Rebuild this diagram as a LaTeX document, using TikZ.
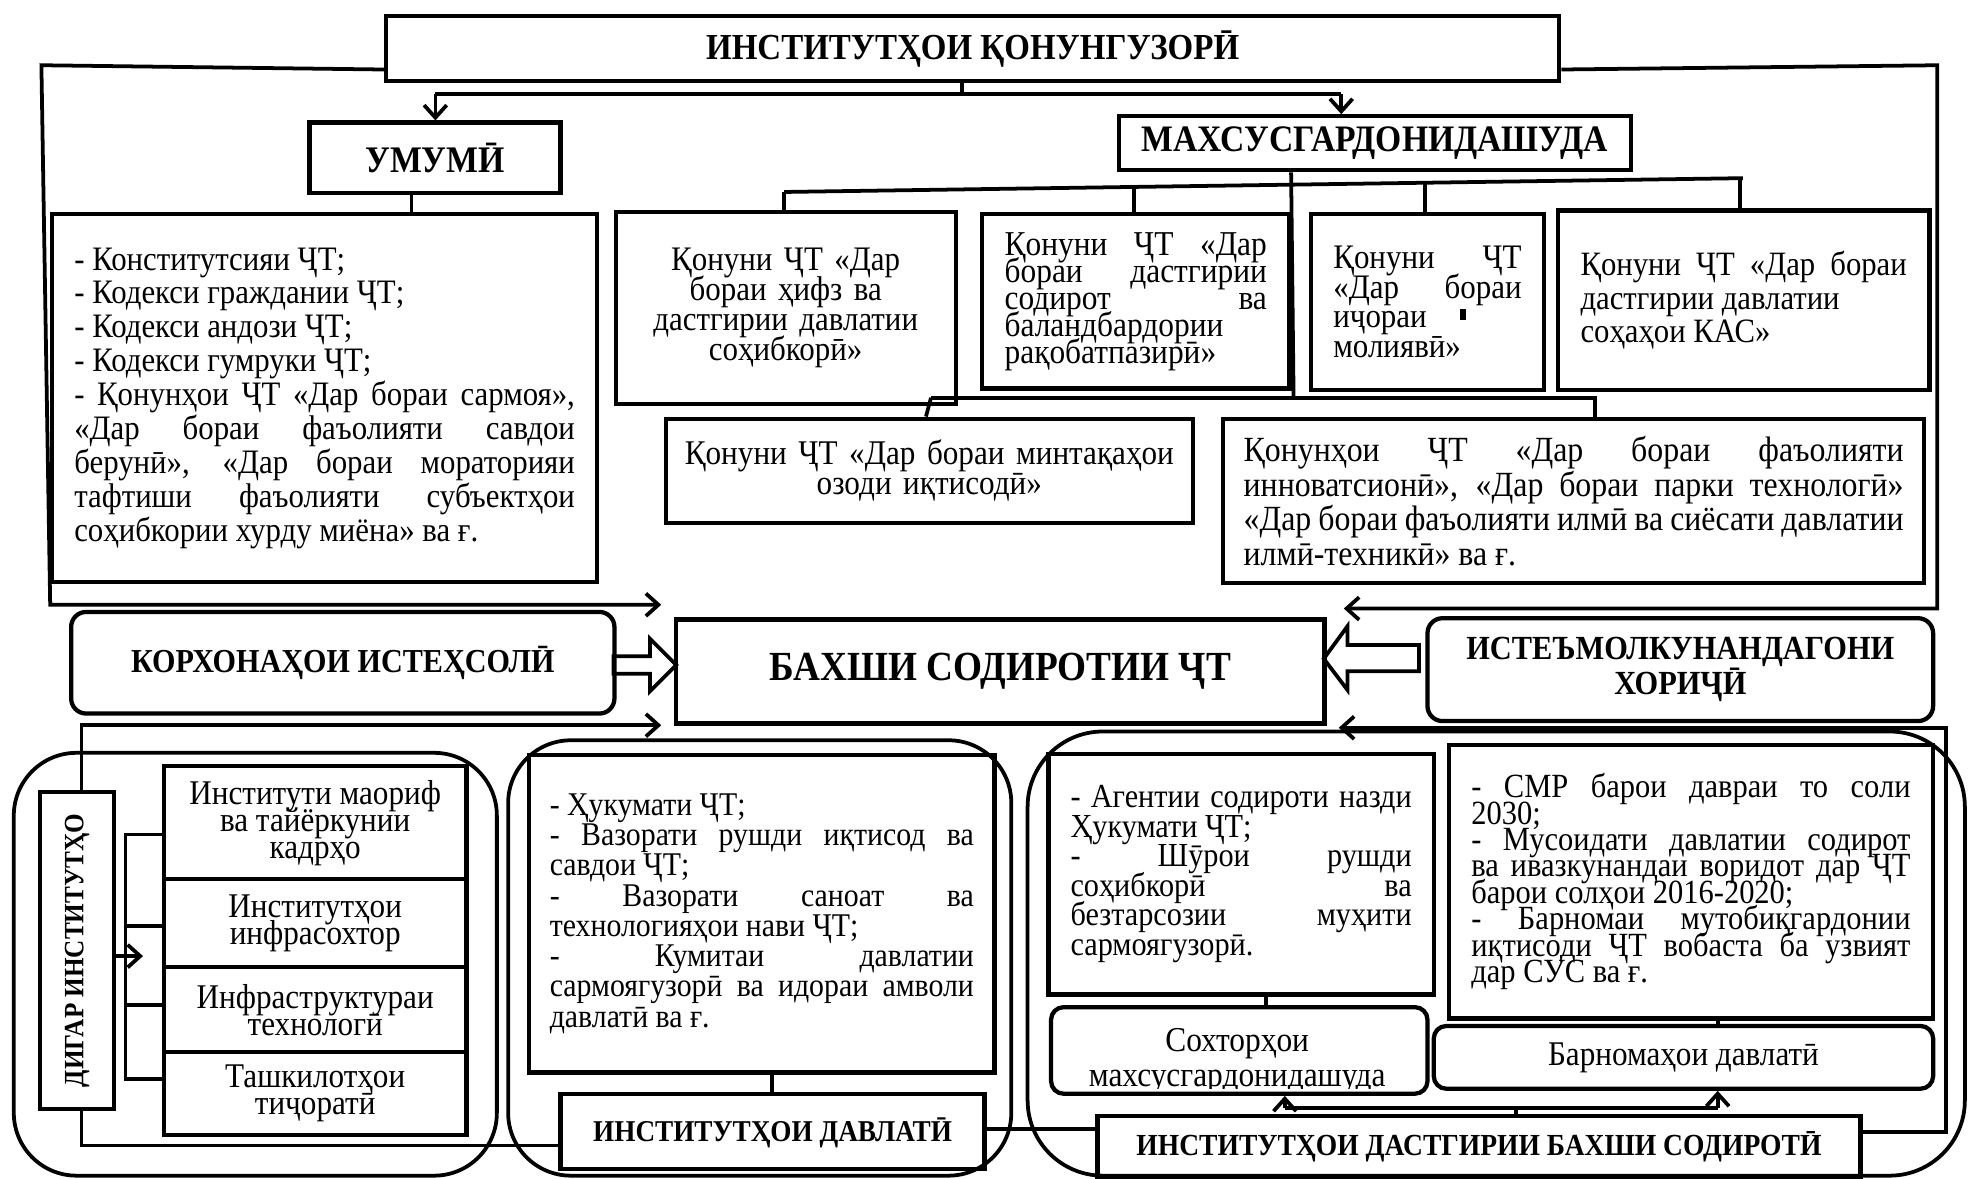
\documentclass[tikz,border=0pt]{standalone}
\usepackage{fontspec}
\setmainfont{Liberation Serif}[FakeStretch=0.9]
\usetikzlibrary{arrows.meta,calc}
\newcommand\setfs[2]{\fontsize{#1pt}{#2pt}\selectfont}
\hyphenpenalty=10000
\exhyphenpenalty=10000
\tolerance=10000
\emergencystretch=20pt
\begin{document}
\begin{tikzpicture}[x=1pt,y=-1pt,
  bx/.style={draw, line width=3.4pt, inner sep=0pt, anchor=north west,
    execute at begin node={\setlength{\parindent}{0pt}\lineskiplimit=-100pt}},
  rbx/.style={bx, rounded corners=12pt},
  ln/.style={line width=3pt},
  ctr/.style={line width=3pt, rounded corners=50pt},
  arr/.style={ln, -{Straight Barb[length=10pt,width=18pt,line width=3pt]}},
  hd/.style={font=\bfseries\setfs{#1}{#1}},
]
\useasboundingbox (0,0) rectangle (1568.5,939);

% containers
\draw[ctr] (11,600) rectangle (396,937);
\draw[ctr] (405,590) rectangle (806,937);
\draw[ctr, rounded corners=60pt] (819,583) rectangle (1566,937);

% top level
\node[bx, minimum width=935pt, minimum height=52pt, hd=29.2] (T) at (306,11) {ИНСТИТУТҲОИ ҚОНУНГУЗОРӢ};
\node[bx, minimum width=200pt, minimum height=56pt, hd=29.9] (U) at (245,96) {УМУМӢ};
\node[bx, minimum width=408pt, minimum height=43pt, hd=29.8] (M) at (890,91) {МАХСУСГАРДОНИДАШУДА};

\node[bx, minimum width=434pt, minimum height=293pt, text width=399pt, align=justify, font=\setfs{27.3}{27}] (G) at (40,169) {%
- Конститутсияи ҶТ;\par
- Кодекси граждании ҶТ;\par
- Кодекси андози ҶТ;\par
- Кодекси гумруки ҶТ;\par
- Қонунҳои ҶТ «Дар бораи сармоя»,\linebreak
«Дар бораи фаъолияти савдои\linebreak
берунӣ», «Дар бораи мораторияи\linebreak
тафтиши фаъолияти субъектҳои\linebreak
соҳибкории хурду миёна» ва ғ.};

\node[bx, minimum width=271pt, minimum height=153pt, text width=262pt, align=center, font=\setfs{27.4}{24}] (H1) at (489,167) {Қонуни ҶТ «Дар\\бораи ҳифз ва\\дастгирии давлатии\\соҳибкорӣ»};
\node[bx, minimum width=245pt, minimum height=139pt, text width=209pt, align=justify, font=\setfs{27.8}{21.5}] (H2) at (781,169) {Қонуни ҶТ «Дар\linebreak бораи дастгирии\linebreak содирот ва\linebreak баландбардории\par рақобатпазирӣ»};
\node[bx, minimum width=186pt, minimum height=140pt, text width=150pt, align=justify, font=\setfs{27.4}{23.5}] (H3) at (1043,169) {Қонуни ҶТ\linebreak «Дар бораи\linebreak иҷораи\par молиявӣ»};
\fill (1164,246) rectangle (1168,255);
\node[bx, minimum width=296pt, minimum height=143pt, text width=260pt, align=justify, font=\setfs{27.2}{27}] (H4) at (1240,166) {Қонуни ҶТ «Дар бораи\linebreak дастгирии давлатии\par соҳаҳои КАС»};
\node[bx, minimum width=420pt, minimum height=83pt, text width=410pt, align=center, font=\setfs{27.6}{24}] (H5) at (529,332) {Қонуни ҶТ «Дар бораи минтақаҳои\\озоди иқтисодӣ»};
\node[bx, minimum width=559pt, minimum height=131pt, text width=526pt, align=justify, font=\setfs{28.2}{27.5}] (H6) at (973,332) {Қонунҳои ҶТ «Дар бораи фаъолияти\linebreak инноватсионӣ», «Дар бораи парки технологӣ»\linebreak «Дар бораи фаъолияти илмӣ ва сиёсати давлатии\linebreak илмӣ-техникӣ» ва ғ.};

% middle row
\node[rbx, minimum width=433pt, minimum height=81pt, hd=26.7] (K) at (55,486) {КОРХОНАҲОИ ИСТЕҲСОЛӢ};
\node[bx, minimum width=517pt, minimum height=83pt, hd=33] (B) at (537,492) {БАХШИ СОДИРОТИИ ҶТ};
\node[rbx, minimum width=403pt, minimum height=82pt, align=center, font=\bfseries\setfs{26.9}{27.5}] (I) at (1136,491) {ИСТЕЪМОЛКУНАНДАГОНИ\\ХОРИҶӢ};

% bottom left
\node[draw, line width=3.4pt, inner sep=0pt, rotate=90, minimum width=253pt, minimum height=59pt, hd=22.3] (D) at (61.5,757.5) {ДИГАР ИНСТИТУТҲО};
\node[bx, minimum width=241pt, minimum height=90pt, align=center, font=\setfs{27.6}{21.5}] (S1) at (129,609) {Институти маориф\\ва тайёркунии\\кадрҳо};
\node[bx, minimum width=241pt, minimum height=70pt, align=center, font=\setfs{27.6}{21.5}] (S2) at (129,699) {Институтҳои\\инфрасохтор};
\node[bx, minimum width=241pt, minimum height=68pt, align=center, font=\setfs{27.6}{21.5}] (S3) at (129,769) {Инфраструктураи\\технологӣ};
\node[bx, minimum width=241pt, minimum height=66pt, align=center, font=\setfs{27.6}{21.5}] (S4) at (129,837) {Ташкилотҳои\\тиҷоратӣ};

% bottom middle
\node[bx, minimum width=371pt, minimum height=253pt, text width=338pt, align=justify, font=\setfs{26.4}{24.1}] (G2) at (420,600) {%
- Ҳукумати ҶТ;\par
- Вазорати рушди иқтисод ва\linebreak савдои ҶТ;\par
- Вазорати саноат ва\linebreak технологияҳои нави ҶТ;\par
- Кумитаи давлатии\linebreak сармоягузорӣ ва идораи амволи\linebreak давлатӣ ва ғ.};
\node[bx, minimum width=338pt, minimum height=60pt, hd=24.1, text depth=2pt] (DV) at (445,870) {ИНСТИТУТҲОИ ДАВЛАТӢ};

% bottom right
\node[bx, minimum width=307pt, minimum height=192pt, text width=272pt, align=justify, font=\setfs{26.8}{23.5}] (A) at (834,599) {%
- Агентии содироти назди\linebreak Ҳукумати ҶТ;\par
- Шӯрои рушди\linebreak соҳибкорӣ ва\linebreak безтарсозии муҳити\linebreak сармоягузорӣ.};
\node[rbx, rounded corners=10pt, minimum width=300pt, minimum height=69pt] (SX) at (836,801) {};
\begin{scope}
\clip (838,803) rectangle (1134,867.5);
\node[anchor=base, font=\setfs{27.8}{24}, inner sep=0pt] (SXa) at (986,838) {Сохторҳои};
\node[anchor=base, font=\setfs{27.8}{24}, inner sep=0pt] (SXb) at (986,866) {махсусгардонидашуда};
\end{scope}
\node[bx, minimum width=386pt, minimum height=218pt, text width=350pt, align=justify, font=\setfs{27}{21.1}] (P) at (1153,592) {%
- СМР барои давраи то соли\linebreak 2030;\par
- Мусоидати давлатии содирот\linebreak ва ивазкунандаи воридот дар ҶТ\linebreak барои солҳои 2016-2020;\par
- Барномаи мутобиқгардонии\linebreak иқтисоди ҶТ вобаста ба узвият\linebreak дар СУС ва ғ.};
\node[rbx, rounded corners=10pt, minimum width=398pt, minimum height=50pt, font=\setfs{27.6}{24}] (BR) at (1141,816) {Барномаҳои давлатӣ};
\node[bx, minimum width=608pt, minimum height=49pt, hd=24.4] (DS) at (873,888) {ИНСТИТУТҲОИ ДАСТГИРИИ БАХШИ СОДИРОТӢ};

% ---- connectors top
\coordinate (tj) at (767,75);
\coordinate (ua) at (347,75);
\coordinate (ma) at (1069,75);
\draw[ln] (T.south -| tj) -- (tj);
\draw[ln] (ua) -- (ma);
\draw[arr] (ua) -- (ua |- U.north);
\draw[arr] (ma) -- (ma |- M.north);
\draw[ln] (U.south -| 328,0) -- (G.north -| 328,0);

\coordinate (bl1) at (527,482);
\coordinate (br1) at (1071,485);
\draw[arr] ($(T.south west)+(0,-11)$) -- (33,52) -- (40,482) -- (bl1);
\draw[arr] ($(T.south east)+(0,-11)$) -- (1544,52) -- (1544,485) -- (br1);

% bus 1
\coordinate (b1a) at (625,153);
\coordinate (b1b) at (1389,142);
\draw[ln] (M.south -| 1029,0) -- (1031,317);
\draw[ln] (b1a) -- (b1b);
\draw[ln] (b1a) -- (H1.north -| b1a);
\draw[ln] (904,149) -- (H2.north -| 904,0);
\draw[ln] (1136,145.6) -- (H3.north -| 1136,0);
\draw[ln] (1387,142) -- (H4.north -| 1387,0);
% bus 2
\coordinate (b2a) at (742,317);
\coordinate (b2b) at (1271,317);
\draw[ln] (b2a) -- (b2b) -- (H6.north -| b2b);
\draw[ln] (b2a) -- (H5.north -| 738,0);

% hollow arrows
\draw[ln, line join=miter] (489,523) -- (518,523) -- (518,509) -- (539,530) -- (518,551) -- (518,537) -- (489,537) -- cycle;
\draw[ln, line join=miter] (1131,514) -- (1074,514) -- (1074,499) -- (1055,525) -- (1074,550) -- (1074,535) -- (1131,535) -- cycle;

% bottom left connectors
\coordinate (bl2) at (527,578);
\draw[arr] ($(D.east)+(3.5,0)$) -- (65,578) -- (bl2);
\draw[ln] ($(D.west)+(3.5,0)$) -- (65,913) -- (DV.west |- 0,913);
\draw[arr] ($(D.south)+(0,4.5)$) -- (114,762);
\draw[ln] (S1.west |- 0,665) -- (100,665) -- (100,860) -- (S4.west |- 0,860);
\draw[ln] (100,738) -- (S2.west |- 0,738);
\draw[ln] (100,801) -- (S3.west |- 0,801);
\draw[ln] (G2.south -| 615,0) -- (DV.north -| 615,0);
\draw[ln] (DV.east |- 0,900) -- (DS.west |- 0,900);

% bottom right connectors
\coordinate (br2) at (1067,580);
\draw[arr] (DS.east |- 0,902) -- (1551,902) -- (1551,580) -- (br2);
\draw[ln] (A.south -| 1009,0) -- (SX.north -| 1009,0);
\draw[ln] (P.south -| 1369,0) -- (BR.north -| 1369,0);
\coordinate (dj) at (1208,883);
\coordinate (da) at (1024,883);
\coordinate (db) at (1369,883);
\draw[ln] (DS.north -| dj) -- (dj);
\draw[ln] (da) -- (db);
\draw[arr] (da) -- (SX.south -| da);
\draw[arr] (db) -- (BR.south -| db);
\end{tikzpicture}
\end{document}
